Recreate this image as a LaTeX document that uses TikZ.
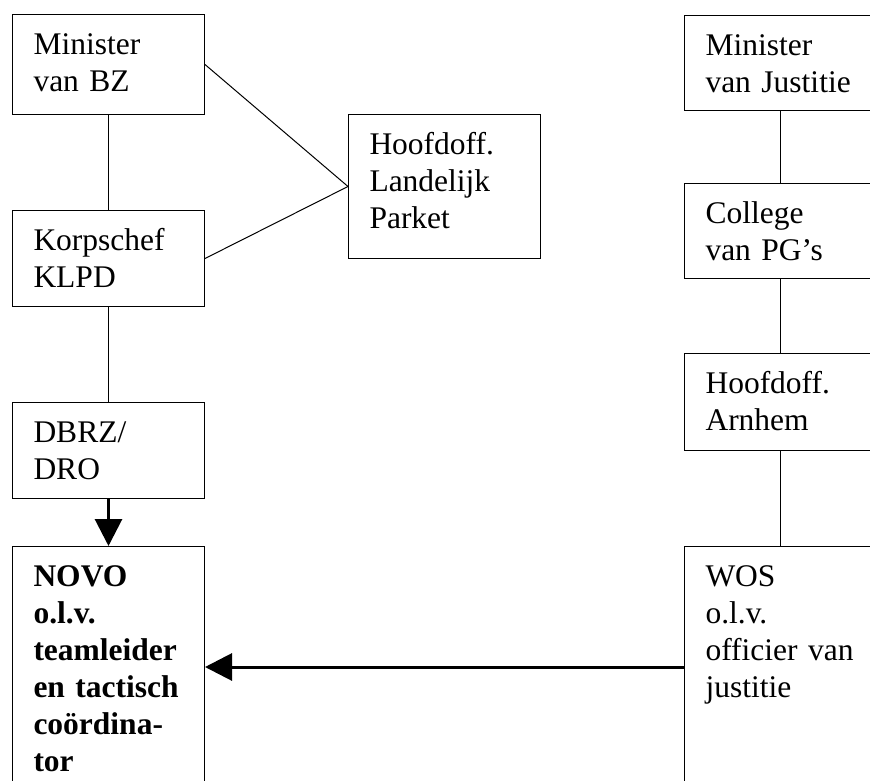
\documentclass[tikz,border=0pt]{standalone}
\usepackage{fontspec}
\setmainfont{Liberation Serif}
\usetikzlibrary{arrows.meta}
\pgfdeclarelayer{nodelayer}
\pgfdeclarelayer{edgelayer}
\pgfsetlayers{edgelayer,nodelayer,main}
\tikzset{box/.style={draw=black, line width=1pt, anchor=north west, align=left,
text width=150pt, inner xsep=21pt, inner ysep=0pt, text height=40pt,
font=\fontsize{31.5}{37}\selectfont}}
\tikzset{boldbox/.style={box, font=\fontsize{31.5}{37}\selectfont\bfseries}}
\tikzset{link/.style={line width=1pt}}
\tikzset{arrow/.style={line width=3pt, -{Triangle[length=27pt, width=27pt]}}}
\begin{document}
\begin{tikzpicture}[x=1pt, y=-1pt]
        \useasboundingbox (0, 0) rectangle (870, 781);
        \begin{pgfonlayer}{nodelayer}
            \node [style=box, text depth=60pt] (0) at (12, 14) {Minister\\van~BZ};
            \node [style=box, text depth=56pt] (1) at (12, 210) {Korpschef\\KLPD};
            \node [style=box, text depth=56pt] (2) at (12, 402) {DBRZ/\\DRO};
            \node [style=boldbox, text depth=260pt] (3) at (12, 546) {NOVO\\o.l.v.\\teamleider\\en~tactisch\\coördina-\\tor};
            \node [style=box, text depth=104pt] (4) at (348, 114) {Hoofdoff.\\Landelijk\\Parket};
            \node [style=box, text depth=55pt] (5) at (684, 15) {Minister\\van~Justitie};
            \node [style=box, text depth=55pt] (6) at (684, 183) {College\\van~PG's};
            \node [style=box, text depth=57pt] (7) at (684, 353) {Hoofdoff.\\Arnhem};
            \node [style=box, text depth=260pt] (8) at (684, 546) {WOS\\o.l.v.\\officier~van\\justitie};
            \coordinate (9) at (0, 667);
        \end{pgfonlayer}
        \begin{pgfonlayer}{edgelayer}
            \draw [style=link] (0.south) to (1.north);
            \draw [style=link] (1.south) to (2.north);
            \draw [style=link] (0.east) to (4.west);
            \draw [style=link] (1.east) to (4.west);
            \draw [style=arrow] (2.south) to (3.north);
            \draw [style=link] (5.south) to (6.north);
            \draw [style=link] (6.south) to (7.north);
            \draw [style=link] (7.south) to (8.north);
            \draw [style=arrow] (8.west |- 9) to (3.east |- 9);
        \end{pgfonlayer}
    \end{tikzpicture}
\end{document}
